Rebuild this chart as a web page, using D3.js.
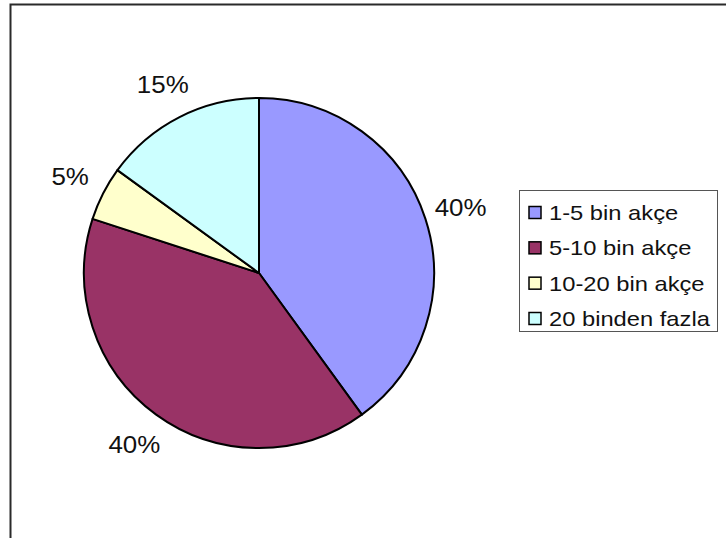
<!DOCTYPE html>
<html>
<head>
<meta charset="utf-8">
<script src="https://cdn.jsdelivr.net/npm/d3@7"></script>
<style>
  html, body { margin: 0; padding: 0; background: #fff; }
  svg { display: block; }
  text { font-family: "Liberation Sans", Arial, sans-serif; fill: #111; }
</style>
</head>
<body>
<svg id="chart" width="726" height="538"></svg>
<script>
const categories = ["1-5 bin akçe", "5-10 bin akçe", "10-20 bin akçe", "20 binden fazla"];
const values = [40, 40, 5, 15];
const labels = ["40%", "40%", "5%", "15%"];
const colors = ["#9999FF", "#993366", "#FFFFCC", "#CCFFFF"];

const svg = d3.select("#chart");
const W = 726, H = 538;

// frame
svg.append("path")
  .attr("d", `M10.5,${H} L10.5,4.5 L${W},4.5`)
  .attr("fill", "none").attr("stroke", "#2a2a2a").attr("stroke-width", 2);

const cx = 259, cy = 273, R = 175;
const g = svg.append("g").attr("transform", `translate(${cx},${cy})`);

const pie = d3.pie().value(d => d).sort(null);
const arcs = pie(values);
const arc = d3.arc().innerRadius(0).outerRadius(R);
const labelArc = d3.arc().innerRadius(212).outerRadius(212);

g.selectAll("path.slice").data(arcs).enter().append("path")
  .attr("class", "slice")
  .attr("d", arc)
  .attr("fill", (d, i) => colors[i])
  .attr("stroke", "#000").attr("stroke-width", 2).attr("stroke-linejoin", "round");

g.selectAll("text.lbl").data(arcs).enter().append("text")
  .attr("class", "lbl")
  .attr("transform", d => { const c = labelArc.centroid(d); return `translate(${c[0]},${c[1]}) scale(1.08,1)`; })
  .attr("text-anchor", "middle")
  .attr("dy", "0.36em")
  .style("font-size", "24px")
  .text((d, i) => labels[i]);

// legend
const lg = svg.append("g").attr("transform", "translate(519,190)");
lg.append("rect").attr("x", 0.5).attr("y", 0.5).attr("width", 198).attr("height", 141)
  .attr("fill", "#fff").attr("stroke", "#555").attr("stroke-width", 1);
const rowY = d3.scalePoint().domain(categories).range([22.5, 128.5]);
const items = lg.selectAll("g.item").data(categories).enter().append("g")
  .attr("class", "item")
  .attr("transform", d => `translate(0,${rowY(d)})`);
items.append("rect")
  .attr("x", 10).attr("y", -6).attr("width", 12).attr("height", 12)
  .attr("fill", (d, i) => colors[i]).attr("stroke", "#000").attr("stroke-width", 1.5);
items.append("text")
  .attr("transform", "translate(30,0) scale(1.13,1)")
  .attr("dy", "0.36em")
  .style("font-size", "21px")
  .text(d => d);
</script>
</body>
</html>
